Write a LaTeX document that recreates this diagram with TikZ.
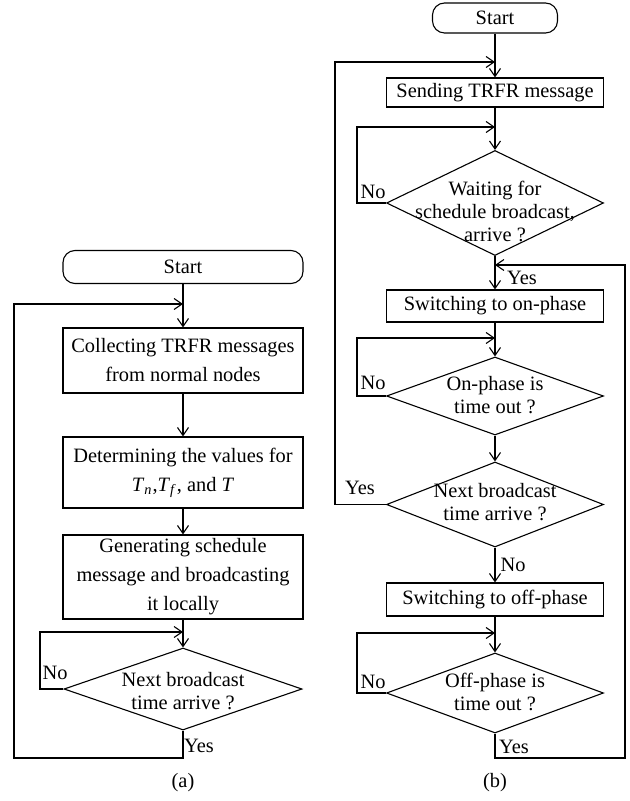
\documentclass[tikz,border=0pt]{standalone}
\usepackage{fontspec}
\setmainfont{Liberation Serif}
\usetikzlibrary{arrows.meta,shapes.geometric}
\begin{document}
\begin{tikzpicture}[x=0.5pt,y=-0.5pt,
  line width=0.55pt,
  arr/.style={-{Straight Barb[length=4pt,width=5.5pt]}},
  pbox/.style={draw,rectangle,inner sep=0pt,align=center,font=\fontsize{10.2}{14.5}\selectfont},
  term/.style={draw,rectangle,rounded corners=6pt,inner sep=0pt,font=\fontsize{10.2}{12}\selectfont},
  dec/.style={draw,diamond,inner sep=0pt},
  dtext/.style={inner sep=0pt,align=center,font=\fontsize{10.2}{11.5}\selectfont},
  lbl/.style={inner sep=0pt,font=\fontsize{10.2}{12}\selectfont}]
\useasboundingbox (0,0) rectangle (629,801);

% ---------------- (a) ----------------
\node[term,minimum width=120pt,minimum height=16.5pt] (startA) at (183,267) {Start};
\coordinate (mA1) at (183,304);
\node[pbox,minimum width=120pt,minimum height=32.5pt] (a1) at (183,360.5) {Collecting TRFR messages\\from normal nodes};
\node[pbox,minimum width=120pt,minimum height=35.5pt] (a2) at (183,472.5) {Determining the values for\\\textit{T}\textsubscript{\textit{n}},\textit{T}\textsubscript{\textit{f}}, and \textit{T}};
\node[pbox,minimum width=120pt,minimum height=42pt] (a3) at (183,577) {Generating schedule\\message and broadcasting\\it locally};
\coordinate (mA2) at (183,632);
\node[dec,minimum width=119pt,minimum height=41pt] (dA) at (183,689) {};
\node[dtext] (dAt) at (183,691) {Next broadcast\\time arrive ?};

\draw[arr] (startA) -- (a1);
\draw[arr] (a1) -- (a2);
\draw[arr] (a2) -- (a3);
\draw[arr] (a3) -- (dA);
\draw[arr] (dA.west) -- (40,689) -- (40,632) -- (mA2);
\draw[arr] (dA.south) -- (183,758) -- (14,758) -- (14,304) -- (mA1);
\node[lbl] (noA) at (55,673) {No};
\node[lbl] (yesA) at (199,746) {Yes};
\node[lbl] (capA) at (183,783) {(a)};

% ---------------- (b) ----------------
\node[term,minimum width=62.5pt,minimum height=15pt] (startB) at (495,18) {Start};
\coordinate (mB1) at (495,62);
\node[pbox,minimum width=108.5pt,minimum height=14.5pt] (b1) at (495,92.5) {Sending TRFR message};
\coordinate (mB2) at (495,127);
\node[dec,minimum width=108.5pt,minimum height=52.5pt] (dB1) at (495,203) {};
\node[dtext] (dB1t) at (495,211) {Waiting for\\schedule broadcast,\\arrive ?};
\coordinate (mB3) at (495,265);
\node[pbox,minimum width=108.5pt,minimum height=16pt] (b2) at (495,306) {Switching to on-phase};
\coordinate (mB4) at (495,338);
\node[dec,minimum width=108.5pt,minimum height=39pt] (dB2) at (495,396) {};
\node[dtext] (dB2t) at (495,395) {On-phase is\\time out ?};
\node[dec,minimum width=108.5pt,minimum height=42.5pt] (dB3) at (495,504.5) {};
\node[dtext] (dB3t) at (495,502) {Next broadcast\\time arrive ?};
\node[pbox,minimum width=108.5pt,minimum height=16.5pt] (b3) at (495,599.5) {Switching to off-phase};
\coordinate (mB5) at (495,633);
\node[dec,minimum width=108.5pt,minimum height=40pt] (dB4) at (495,693) {};
\node[dtext] (dB4t) at (495,692) {Off-phase is\\time out ?};

\draw[arr] (startB) -- (b1);
\draw[arr] (b1) -- (dB1);
\draw[arr] (dB1.west) -- (357,203) -- (357,127) -- (mB2);
\draw[arr] (dB1) -- (b2);
\draw[arr] (b2) -- (dB2);
\draw[arr] (dB2.west) -- (357,396) -- (357,338) -- (mB4);
\draw[arr] (dB2) -- (dB3);
\draw[arr] (dB3.west) -- (335,504.5) -- (335,62) -- (mB1);
\draw[arr] (dB3) -- (b3);
\draw[arr] (b3) -- (dB4);
\draw[arr] (dB4.west) -- (357,693) -- (357,633) -- (mB5);
\draw[arr] (dB4.south) -- (495,758) -- (625,758) -- (625,265) -- (mB3);

\node[lbl] (noB1) at (373,192) {No};
\node[lbl] (yesB1) at (522,278) {Yes};
\node[lbl] (noB2) at (373,383) {No};
\node[lbl] (yesB2) at (360,488) {Yes};
\node[lbl] (noB3) at (513,565) {No};
\node[lbl] (noB4) at (373,682) {No};
\node[lbl] (yesB4) at (514,747) {Yes};
\node[lbl] (capB) at (495,783) {(b)};
\end{tikzpicture}
\end{document}
